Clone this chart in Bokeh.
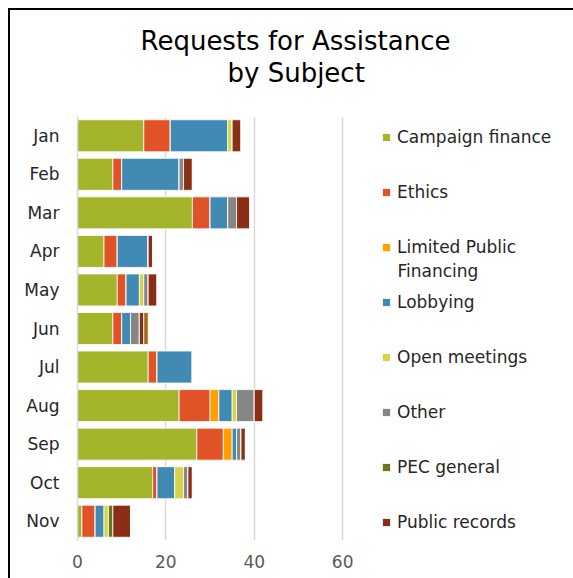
from bokeh.plotting import figure
from bokeh.models import (ColumnDataSource, FactorRange, Range1d, FixedTicker,
                          Legend, LegendItem, Label, Title)
from bokeh.embed import file_html
from bokeh.resources import INLINE

# ---- data ----
months = ["Jan", "Feb", "Mar", "Apr", "May", "Jun", "Jul", "Aug", "Sep", "Oct", "Nov"]
campaign_finance = [15, 8, 26, 6, 9, 8, 16, 23, 27, 17, 1]
ethics = [6, 2, 4, 3, 2, 2, 2, 7, 6, 1, 3]
limited_public_financing = [0, 0, 0, 0, 0, 0, 0, 2, 2, 0, 0]
lobbying = [13, 13, 4, 7, 3, 2, 8, 3, 1, 4, 2]
open_meetings = [1, 0, 0, 0, 1, 0, 0, 1, 0, 2, 1]
other = [0, 1, 2, 0, 1, 2, 0, 4, 1, 1, 0]
pec_general = [0, 0, 0, 0, 0, 0, 0, 0, 0, 0, 1]
public_records = [2, 2, 3, 1, 2, 1, 0, 2, 1, 1, 4]
unlisted = [0, 0, 0, 0, 0, 1, 0, 0, 0, 0, 0]

series_names = ["Campaign finance", "Ethics", "Limited Public Financing", "Lobbying",
                "Open meetings", "Other", "PEC general", "Public records", "(unlisted)"]
series_values = [campaign_finance, ethics, limited_public_financing, lobbying,
                 open_meetings, other, pec_general, public_records, unlisted]
colors = ["#A5B52B", "#E05327", "#FF9F00", "#418AB3", "#D8D44A",
          "#868686", "#69761E", "#8A2F15", "#A0661A"]
x_ticks = [0, 20, 40, 60]

data = {"month": months}
for n, v in zip(series_names, series_values):
    data[n] = v
source = ColumnDataSource(data)

FONT = "DejaVu Sans"

p = figure(width=565, height=570, output_backend="svg", toolbar_location=None,
           y_range=FactorRange(*reversed(months)), x_range=Range1d(0, 112.7),
           min_border_left=67, min_border_right=0, min_border_top=106,
           min_border_bottom=40, title=None)
p.outline_line_color = None
p.background_fill_color = "white"
p.border_fill_color = "white"

renderers = p.hbar_stack(series_names, y="month", height=0.83, source=source,
                         color=colors, line_color="white", line_width=0.8)

# axes
p.xaxis.ticker = FixedTicker(ticks=x_ticks)
p.xaxis.axis_line_color = None
p.xaxis.major_tick_line_color = None
p.xaxis.minor_tick_line_color = None
p.xaxis.major_label_text_color = "#595959"
p.xaxis.major_label_text_font = FONT
p.xaxis.major_label_text_font_size = "17px"
p.xaxis.major_label_standoff = 8

p.yaxis.axis_line_color = "#D9D9D9"
p.yaxis.axis_line_width = 1.5
p.yaxis.major_tick_line_color = None
p.yaxis.minor_tick_line_color = None
p.yaxis.major_label_text_color = "#262626"
p.yaxis.major_label_text_font = FONT
p.yaxis.major_label_text_font_size = "17px"
p.yaxis.major_label_standoff = 12

p.xgrid.ticker = FixedTicker(ticks=x_ticks)
p.xgrid.grid_line_color = "#D9D9D9"
p.xgrid.grid_line_width = 1.5
p.ygrid.grid_line_color = None

# legend
legend_labels = ["Campaign finance", "Ethics", "Limited Public", "Lobbying",
                 "Open meetings", "Other", "PEC general", "Public records"]
items = [LegendItem(label=lab, renderers=[r]) for lab, r in zip(legend_labels, renderers[:8])]
legend = Legend(items=items, location=(304, 8), orientation="vertical",
                glyph_width=10, glyph_height=10, label_height=20, spacing=35,
                label_standoff=6, padding=0, margin=0,
                border_line_color=None, background_fill_alpha=0,
                label_text_font=FONT, label_text_font_size="17px",
                label_text_color="#262626")
p.add_layout(legend, "center")
p.add_layout(Label(x=320, y=270, x_units="screen", y_units="screen",
                   text="Financing", text_baseline="middle", text_align="left",
                   text_font=FONT, text_font_size="17px", text_color="#262626"))

# title (two lines, centred over the whole chart); first a small spacer
p.add_layout(Title(text=" ", text_font_size="1px", standoff=26), "above")
p.add_layout(Title(text="by Subject", align="left", offset=150,
                   text_font=FONT, text_font_size="26px", text_font_style="normal",
                   text_color="black", standoff=0), "above")
p.add_layout(Title(text="Requests for Assistance", align="left", offset=63,
                   text_font=FONT, text_font_size="26px", text_font_style="normal",
                   text_color="black", standoff=0), "above")

p.styles = {"margin-left": "8px", "margin-top": "8px",
            "border-left": "2px solid black", "border-top": "2px solid black",
            "box-sizing": "border-box"}

open("out.html", "w").write(file_html(p, INLINE))
